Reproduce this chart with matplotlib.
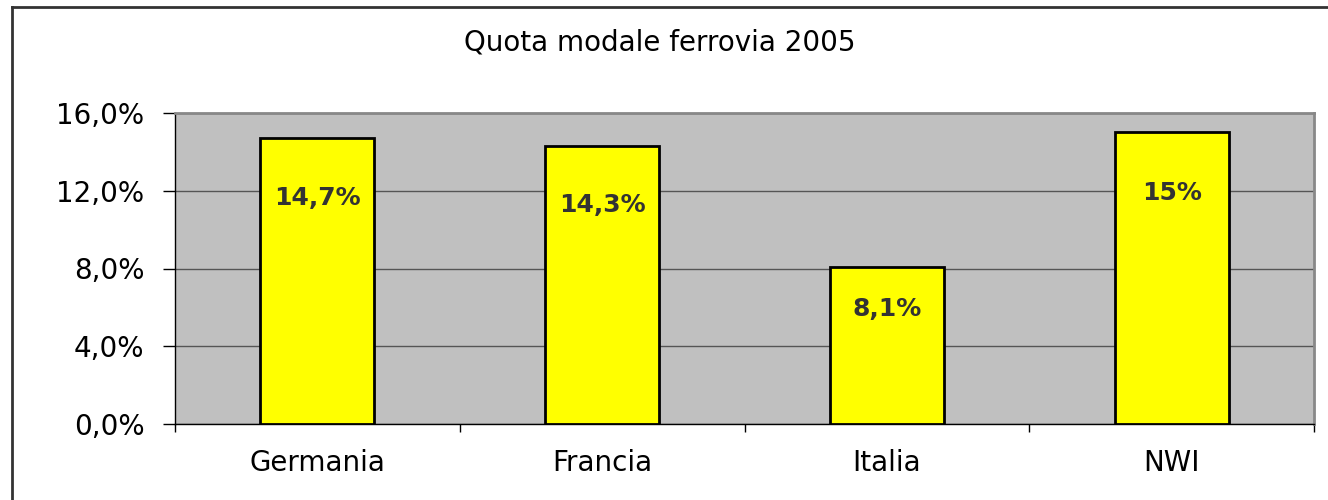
import numpy as np
import matplotlib.pyplot as plt
from matplotlib.lines import Line2D

# dati
paesi = ['Germania', 'Francia', 'Italia', 'NWI']
quote = [14.7, 14.3, 8.1, 15.0]
etichette = ['14,7%', '14,3%', '8,1%', '15%']
yticks = [0, 4, 8, 12, 16]
ytick_lab = ['0,0%', '4,0%', '8,0%', '12,0%', '16,0%']

plt.rcParams['font.family'] = ['DejaVu Sans']

fig = plt.figure(figsize=(13.28, 5.0), dpi=100)
ax = fig.add_axes([175/1328, 1-424/500, (1314-175)/1328, (424-113)/500])

ax.set_facecolor('#C0C0C0')
x = np.arange(len(paesi))
ax.bar(x, quote, width=0.4, color='#FFFF00', edgecolor='black', linewidth=2, zorder=3)

for xi, v, t in zip(x, quote, etichette):
    ax.text(xi, v*0.865 - 1.1, t, ha='center', va='center', fontsize=18,
            fontweight='bold', color='#333333', zorder=4)

ax.set_xlim(-0.5, len(paesi)-0.5)
ax.set_ylim(0, 16)
ax.set_yticks(yticks)
ax.set_yticklabels(ytick_lab, fontsize=20)
ax.set_xticks(x)
ax.set_xticklabels(paesi, fontsize=20)
ax.set_xticks(np.arange(len(paesi)+1)-0.5, minor=True)
ax.tick_params(axis='x', which='major', length=0, pad=18)
ax.tick_params(axis='x', which='minor', length=6, width=1, direction='out')
ax.tick_params(axis='y', length=9, width=1, direction='out', pad=13)
ax.yaxis.grid(True, color='#555555', linewidth=1, zorder=1)
ax.set_axisbelow(True)

for s in ['top', 'right']:
    ax.spines[s].set_color('#888888')
    ax.spines[s].set_linewidth(2)
for s in ['left', 'bottom']:
    ax.spines[s].set_color('black')
    ax.spines[s].set_linewidth(1)

fig.text(0.497, 1-42/500, 'Quota modale ferrovia 2005', ha='center', va='center', fontsize=20)

# cornice
fig.add_artist(Line2D([12/1328, 12/1328], [0, 1-7/500], color='#333333', linewidth=2, transform=fig.transFigure))
fig.add_artist(Line2D([12/1328, 1], [1-7/500, 1-7/500], color='#333333', linewidth=2, transform=fig.transFigure))

fig.savefig('out.png', dpi=100)
